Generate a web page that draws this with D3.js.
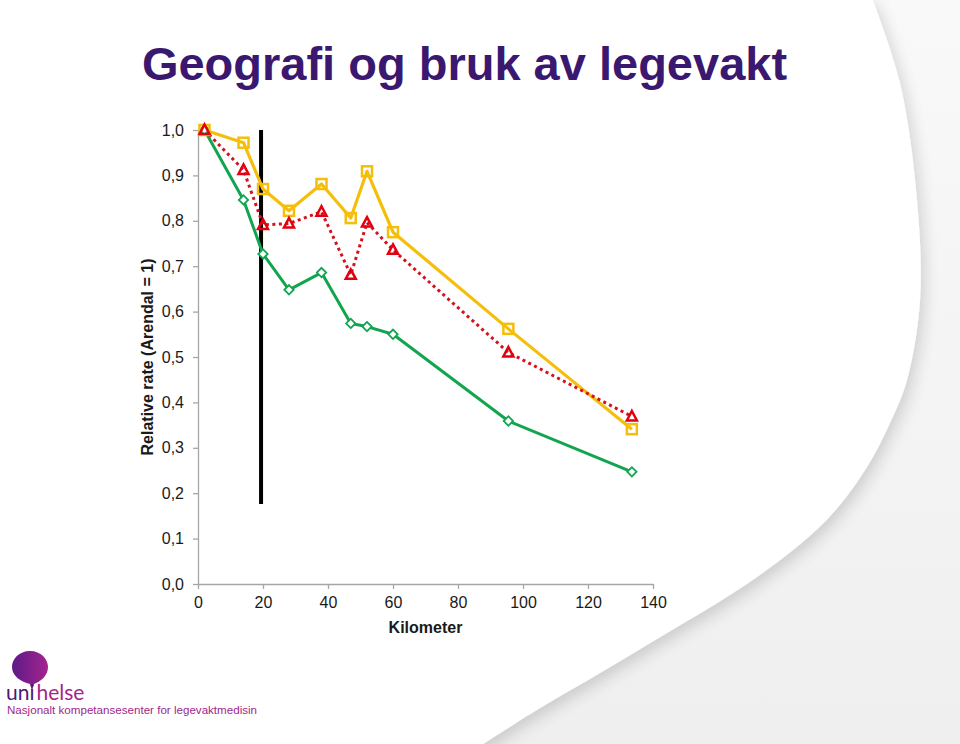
<!DOCTYPE html>
<html><head><meta charset="utf-8">
<script src="https://cdn.jsdelivr.net/npm/d3@7"></script>
<style>html,body{margin:0;padding:0;background:#fff;}svg{display:block;font-family:"Liberation Sans",Arial,sans-serif;}</style>
</head><body>
<svg id="c" width="960" height="744"></svg>
<script>
// ---- data ----
const km = [2, 14, 20, 28, 38, 47, 52, 60, 95.5, 133.5];
const seriesYellow = [1.0, 0.972, 0.870, 0.822, 0.881, 0.806, 0.909, 0.775, 0.562, 0.341];
const seriesRed    = [1.0, 0.912, 0.791, 0.794, 0.820, 0.681, 0.796, 0.736, 0.510, 0.369];
const seriesGreen  = [1.0, 0.846, 0.727, 0.648, 0.686, 0.574, 0.567, 0.550, 0.359, 0.247];
const cutoffKm = 19.4;
const cutoffRange = [0.176, 1.0];
const xTicks = [0, 20, 40, 60, 80, 100, 120, 140];
const yTicks = [0, 0.1, 0.2, 0.3, 0.4, 0.5, 0.6, 0.7, 0.8, 0.9, 1.0];
const titleText = "Geografi og bruk av legevakt";
const xTitle = "Kilometer";
const yTitle = "Relative rate (Arendal = 1)";

const svg = d3.select("#c");
const W = 960, H = 744;

// ---- background ----
const defs = svg.append("defs");
const sh = defs.append("filter").attr("id","sh").attr("x","-20%").attr("y","-20%").attr("width","140%").attr("height","140%");
sh.append("feGaussianBlur").attr("in","SourceAlpha").attr("stdDeviation",8).attr("result","b");
sh.append("feOffset").attr("in","b").attr("dx",4).attr("dy",6).attr("result","o");
sh.append("feComponentTransfer").attr("in","o").attr("result","o2")
  .append("feFuncA").attr("type","linear").attr("slope",0.16);
const mg = sh.append("feMerge");
mg.append("feMergeNode").attr("in","o2");
mg.append("feMergeNode").attr("in","SourceGraphic");
const bgGrad = defs.append("linearGradient").attr("id","bgg").attr("x1",0).attr("y1",0).attr("x2",0).attr("y2",1);
bgGrad.append("stop").attr("offset","0%").attr("stop-color","#f9f9f9");
bgGrad.append("stop").attr("offset","100%").attr("stop-color","#efefef");
svg.append("rect").attr("width",W).attr("height",H).attr("fill","url(#bgg)");
const blobPts = [[872,-2],[900,83],[917,200],[920,300],[907,380],[890,423],[867,467],[833,513],[793,550],[733,593],[667,633],[600,673],[540,708],[480,746]];
const blob = d3.line().curve(d3.curveCatmullRom)(blobPts) + "L-10,746L-10,-2Z";
svg.append("path").attr("d",blob).attr("fill","#fff").attr("filter","url(#sh)");

// ---- title ----
svg.append("text").attr("x",464.5).attr("y",80).attr("text-anchor","middle")
  .attr("font-size",47).attr("font-weight","bold").attr("fill","#3b1870").text(titleText);

// ---- scales ----
const x = d3.scaleLinear().domain([0,140]).range([198,653]);
const y = d3.scaleLinear().domain([0,1]).range([584,130]);

const fmt = d => d3.format(".1f")(d).replace(".", ",");
const gy = svg.append("g").attr("transform",`translate(${x(0)},0)`)
  .call(d3.axisLeft(y).tickValues(yTicks).tickFormat(fmt).tickSize(5).tickSizeOuter(0).tickPadding(9));
const gx = svg.append("g").attr("transform",`translate(0,${y(0)})`)
  .call(d3.axisBottom(x).tickValues(xTicks).tickFormat(d3.format("d")).tickSize(5).tickSizeOuter(0).tickPadding(8));
[gy,gx].forEach(g=>{
  g.select(".domain").attr("stroke","#a6a6a6").attr("stroke-width",1.3);
  g.selectAll(".tick line").attr("stroke","#a6a6a6").attr("stroke-width",1.3);
  g.selectAll(".tick text").attr("font-size",16).attr("fill","#1a1a1a").attr("font-family","Liberation Sans, Arial, sans-serif");
});

svg.append("text").attr("x",(x(0)+x(140))/2).attr("y",633).attr("text-anchor","middle")
  .attr("font-size",16).attr("font-weight","bold").attr("fill","#1a1a1a").text(xTitle);
svg.append("text").attr("transform",`translate(153,${(y(0)+y(1))/2}) rotate(-90)`).attr("text-anchor","middle")
  .attr("font-size",16).attr("font-weight","bold").attr("fill","#1a1a1a").text(yTitle);

// ---- vertical cutoff line ----
svg.append("line").attr("x1",x(cutoffKm)).attr("x2",x(cutoffKm))
  .attr("y1",y(cutoffRange[0])).attr("y2",y(cutoffRange[1]))
  .attr("stroke","#000").attr("stroke-width",4);

// ---- series ----
const line = d3.line().x(d=>x(d[0])).y(d=>y(d[1]));
const zip = vals => km.map((k,i)=>[k, vals[i]]);
const gData = zip(seriesGreen), rData = zip(seriesRed), yData = zip(seriesYellow);

svg.append("path").datum(gData).attr("d",line).attr("fill","none").attr("stroke","#12a550").attr("stroke-width",3).attr("stroke-linejoin","round");
svg.append("path").datum(yData).attr("d",line).attr("fill","none").attr("stroke","#f5be0b").attr("stroke-width",3.2).attr("stroke-linejoin","round");
svg.append("path").datum(rData).attr("d",line).attr("fill","none").attr("stroke","#d4111c").attr("stroke-width",3).attr("stroke-dasharray","3,3.5");

// markers
svg.append("g").selectAll("path").data(gData).join("path")
  .attr("transform",d=>`translate(${x(d[0])},${y(d[1])}) rotate(45)`)
  .attr("d","M-3.3,-3.3H3.3V3.3H-3.3Z")
  .attr("fill","#fff").attr("stroke","#12a550").attr("stroke-width",1.8);
svg.append("g").selectAll("rect").data(yData).join("rect")
  .attr("x",d=>x(d[0])-5).attr("y",d=>y(d[1])-5).attr("width",10).attr("height",10)
  .attr("fill","none").attr("stroke","#f5be0b").attr("stroke-width",2.5);
svg.append("g").selectAll("path").data(rData).join("path")
  .attr("transform",d=>`translate(${x(d[0])},${y(d[1])})`)
  .attr("d","M0,-5.5L5,4L-5,4Z")
  .attr("fill","none").attr("stroke","#e3000f").attr("stroke-width",2.5).attr("stroke-linejoin","miter");

// ---- logo ----
const lg = defs.append("linearGradient").attr("id","lg").attr("x1",0).attr("y1",0).attr("x2",1).attr("y2",0);
lg.append("stop").attr("offset","0%").attr("stop-color","#5e1a87");
lg.append("stop").attr("offset","100%").attr("stop-color","#a3248f");
svg.append("path")
  .attr("d","M30,651 C41,651 48,659 48,667 C48,676 40,682 34,684 L32,691 L30,684 C21,682 12,676 12,667 C12,659 19,651 30,651 Z")
  .attr("fill","url(#lg)");
const lt = svg.append("text").attr("x",6).attr("y",700).attr("font-size",21).attr("font-family","Lato, Liberation Sans, sans-serif");
lt.append("tspan").attr("fill","#4a1a78").text("uni");
lt.append("tspan").attr("dx",2).attr("fill","#a8238d").text("helse");
svg.append("text").attr("x",7).attr("y",714).attr("font-size",11.6).attr("fill","#a0268c")
  .text("Nasjonalt kompetansesenter for legevaktmedisin");
</script>
</body></html>
